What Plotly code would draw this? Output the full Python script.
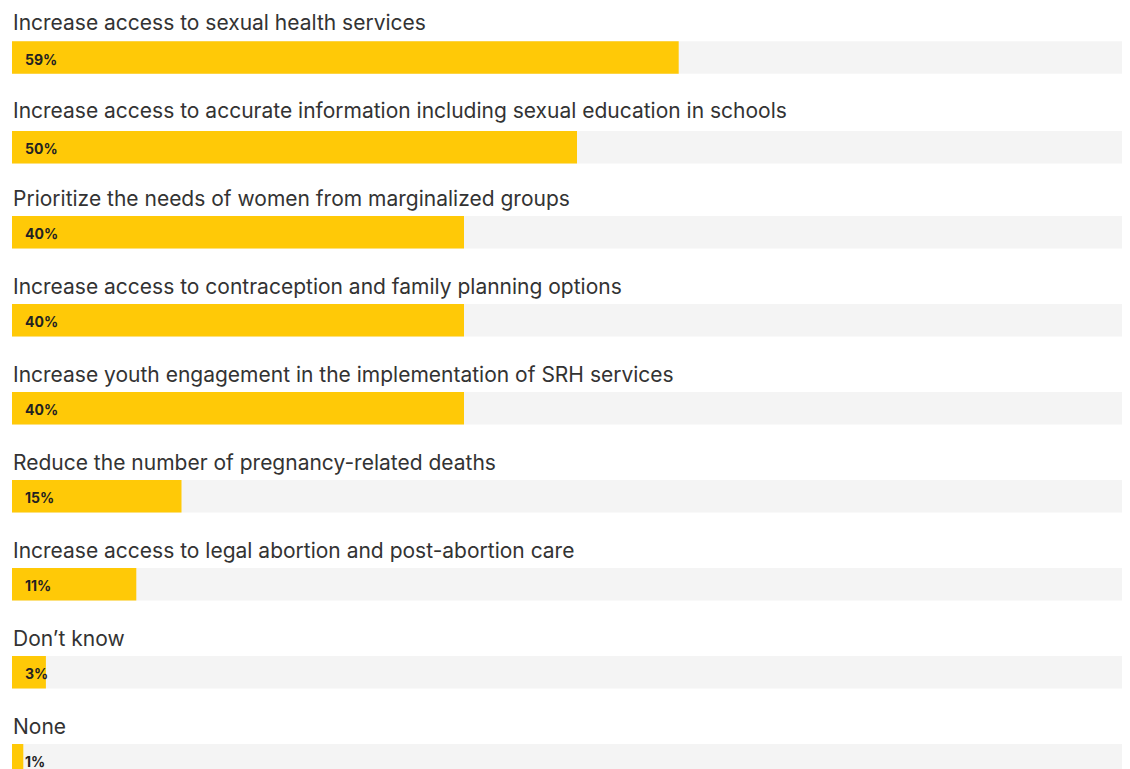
import plotly.graph_objects as go

categories = [
    "Increase access to sexual health services",
    "Increase access to accurate information including sexual education in schools",
    "Prioritize the needs of women from marginalized groups",
    "Increase access to contraception and family planning options",
    "Increase youth engagement in the implementation of SRH services",
    "Reduce the number of pregnancy-related deaths",
    "Increase access to legal abortion and post-abortion care",
    "Don\u2019t know",
    "None",
]
values = [59, 50, 40, 40, 40, 15, 11, 3, 1]
value_labels = ["59%", "50%", "40%", "40%", "40%", "15%", "11%", "3%", "1%"]

# layout (page pixels); the page body has an 8px margin: figure pixel = page pixel - 8
OFF = 8
W, H = 1114, 761
LEFT = 12 - OFF
PX_PER_UNIT = 11.3
BAR_H = 32.5
bar_tops_page = [41.3, 131, 216, 304, 392, 480, 568, 656, 744]
label_y_page = [22 + 88 * i for i in range(len(categories))]

centers = [t + BAR_H / 2 - OFF for t in bar_tops_page]
label_y = [v - OFF for v in label_y_page]

fig = go.Figure()
fig.add_trace(go.Bar(
    x=[100] * len(categories), y=centers, orientation="h", width=BAR_H,
    marker=dict(color="#F4F4F4", line=dict(width=0)), hoverinfo="skip", showlegend=False,
))
fig.add_trace(go.Bar(
    x=values, y=centers, orientation="h", width=BAR_H,
    marker=dict(color="#FFC907", line=dict(width=0)), hoverinfo="skip", showlegend=False,
))

annotations = []
for c, ly, cat, lab in zip(centers, label_y, categories, value_labels):
    annotations.append(dict(
        x=-1.5 / PX_PER_UNIT, y=ly, xref="x", yref="y", text=cat, showarrow=False,
        xanchor="left", yanchor="middle",
        font=dict(family="Inter", size=21, color="#333333"),
    ))
    annotations.append(dict(
        x=(23 - 12) / PX_PER_UNIT, y=c + 1.5, xref="x", yref="y", text="<b>" + lab + "</b>",
        showarrow=False, xanchor="left", yanchor="middle",
        font=dict(family="Inter", size=14, color="#222222"),
    ))

fig.update_layout(
    width=W, height=H,
    margin=dict(l=0, r=0, t=0, b=0),
    paper_bgcolor="white", plot_bgcolor="white",
    barmode="overlay",
    xaxis=dict(range=[-LEFT / PX_PER_UNIT, (W - LEFT) / PX_PER_UNIT], visible=False, fixedrange=True),
    yaxis=dict(range=[H, 0], visible=False, fixedrange=True),
    annotations=annotations,
)

fig.write_html("out.html", config={"displayModeBar": False})
